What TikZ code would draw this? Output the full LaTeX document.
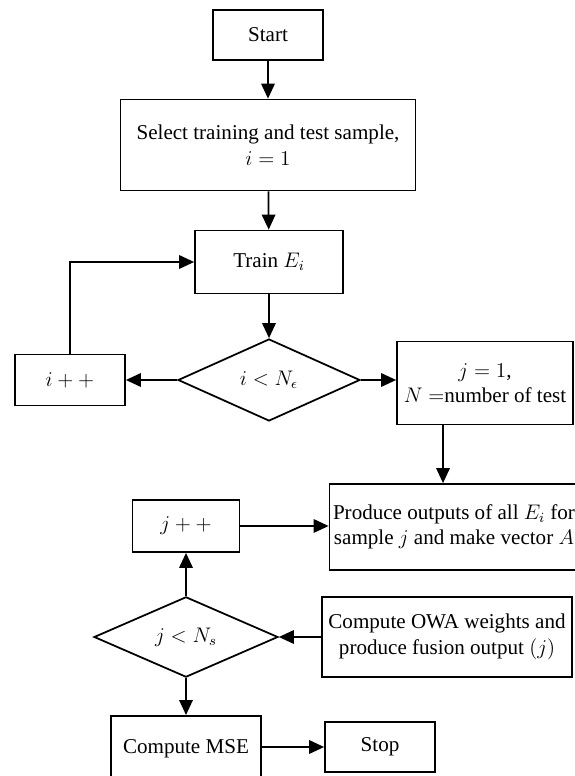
\documentclass[tikz,border=0pt]{standalone}
\usepackage{fontspec}
\setmainfont{Liberation Serif}
\usepackage{tikz}
\usetikzlibrary{arrows.meta,positioning,shapes.geometric,calc}

\begin{document}
\begin{tikzpicture}[
        x=0.02cm, y=-0.02cm,
        every node/.append style={font=\fontsize{12}{14.5}\selectfont},
        box/.style={draw, line width=1pt, minimum width=2.2cm, minimum height=1cm, align=center, inner sep=2pt},
        cond/.style={draw, diamond, line width=1pt, inner sep=0pt, align=center},
        arrow/.style={-{Triangle[length=0.3cm, width=0.27cm]}, line width=1pt}
    ]
        \useasboundingbox (0,0) rectangle (574,776);

        % main column
        \node[box] (start) at (268, 35) {Start};
        \node[box, minimum width=5.9cm, minimum height=1.82cm] (select) at (268, 145) {Select training and test sample,\\$i=1$};
        \node[box, minimum width=2.96cm, minimum height=1.26cm] (train) at (269, 262) {Train $E_i$};
        \node[cond, minimum width=3.64cm, minimum height=1.64cm] (condi) at (269, 380) {$i<N_\epsilon$};

        % loop over i
        \node[box, minimum height=1.02cm] (inci) at (70, 380) {$i++$};
        \node[box, minimum width=3.52cm, minimum height=1.66cm] (initj) at (485, 383) {$j=1$,\\$N=$number of test};

        % loop over j
        \node[box, minimum width=4.76cm, minimum height=1.72cm] (produce) at (454, 527) {Produce outputs of all $E_i$ for\\sample $j$ and make vector $A$};
        \node[box, minimum width=2.14cm, minimum height=1.04cm] (incj) at (186, 526) {$j++$};
        \node[cond, minimum width=3.68cm, minimum height=1.6cm] (condj) at (186, 637) {$j<N_s$};
        \node[box, minimum width=5cm, minimum height=1.6cm] (owa) at (447, 637) {Compute OWA weights and\\produce fusion output $(j)$};

        % end (box runs past the bottom edge)
        \node[box, anchor=north, minimum width=3cm, minimum height=0pt, inner ysep=0.26cm, text height=0.5cm, text depth=0.8cm] (mse) at (186, 715) {Compute MSE};
        \node[box] (stop) at (380, 747) {Stop};

        \draw[arrow] (start) -- (select);
        \draw[arrow] (select) -- (train);
        \draw[arrow] (train) -- (condi);
        \draw[arrow] (condi.west) -- (condi.west -| inci.east);
        \draw[arrow] (condi.east) -- (condi.east -| initj.west);
        \draw[arrow] (inci.north) |- (train.west);
        \draw[arrow] ([xshift=-0.84cm]initj.south) -- ([xshift=-0.84cm]initj.south |- produce.north);
        \draw[arrow] (incj.east) -- (incj.east -| produce.west);
        \draw[arrow] (condj.north) -- (incj.south);
        \draw[arrow] (owa.west) -- (owa.west -| condj.east);
        \draw[arrow] (condj.south) -- (mse.north);
        \draw[arrow] (stop.west -| mse.east) -- (stop.west);
    \end{tikzpicture}
\end{document}
